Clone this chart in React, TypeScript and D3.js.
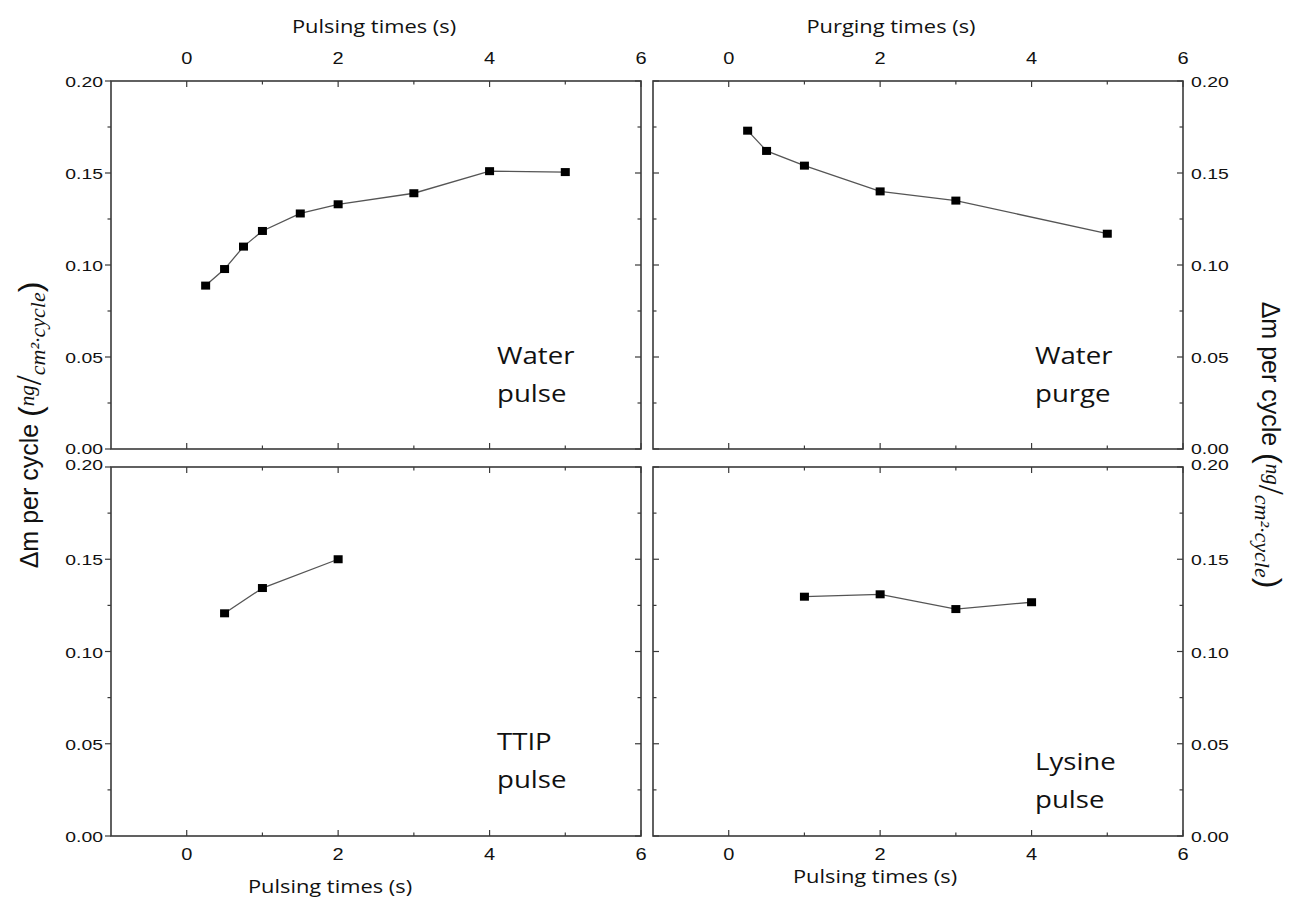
import React from "react";
import * as d3 from "d3";

// ---- data ----
const waterPulseX = [0.25, 0.5, 0.75, 1, 1.5, 2, 3, 4, 5];
const waterPulseY = [0.0888, 0.0978, 0.11, 0.1185, 0.128, 0.133, 0.139, 0.151, 0.1505];
const waterPurgeX = [0.25, 0.5, 1, 2, 3, 5];
const waterPurgeY = [0.173, 0.162, 0.154, 0.14, 0.135, 0.117];
const ttipPulseX = [0.5, 1, 2];
const ttipPulseY = [0.1207, 0.1344, 0.15];
const lysinePulseX = [1, 2, 3, 4];
const lysinePulseY = [0.1297, 0.131, 0.123, 0.1267];

const xMajorTicks = [0, 2, 4, 6];
const xMinorTicks = [1, 3, 5];
const yMajorTicks = [0, 0.05, 0.1, 0.15, 0.2];
const yMinorTicks = [0.025, 0.075, 0.125, 0.175];
const xDomain = [-1, 6];
const yDomain = [0, 0.2];

const topLeftTitle = "Pulsing times (s)";
const topRightTitle = "Purging times (s)";
const bottomLeftTitle = "Pulsing times (s)";
const bottomRightTitle = "Pulsing times (s)";

type Panel = {
  x0: number; x1: number; y0: number; y1: number;
  xs: number[]; ys: number[];
  xLabelSide: "top" | "bottom";
  yLabelSide: "left" | "right";
  note: string[];
  noteX: number; noteY: number;
};

const panels: Panel[] = [
  { x0: 111, x1: 641, y0: 81, y1: 449, xs: waterPulseX, ys: waterPulseY, xLabelSide: "top", yLabelSide: "left", note: ["Water", "pulse"], noteX: 497, noteY: 364 },
  { x0: 653, x1: 1183, y0: 81, y1: 449, xs: waterPurgeX, ys: waterPurgeY, xLabelSide: "top", yLabelSide: "right", note: ["Water", "purge"], noteX: 1035, noteY: 364 },
  { x0: 111, x1: 641, y0: 467, y1: 836, xs: ttipPulseX, ys: ttipPulseY, xLabelSide: "bottom", yLabelSide: "left", note: ["TTIP", "pulse"], noteX: 497, noteY: 750 },
  { x0: 653, x1: 1183, y0: 467, y1: 836, xs: lysinePulseX, ys: lysinePulseY, xLabelSide: "bottom", yLabelSide: "right", note: ["Lysine", "pulse"], noteX: 1035, noteY: 770 },
];

const AX = "#3a3a3a";
const TICK_FONT = "'Liberation Sans', Arial, sans-serif";
const TITLE_FONT = "'Open Sans', sans-serif";
const SX = 1.25;

function SText(props: { x: number; y: number; sx?: number; anchor?: string; size: number; family: string; children: React.ReactNode }) {
  const { x, y, sx = SX, anchor = "middle", size, family, children } = props;
  return (
    <g transform={`translate(${x},${y}) scale(${sx},1)`}>
      <text x={0} y={0} textAnchor={anchor as any} fontSize={size} fontFamily={family} fill="#111">
        {children}
      </text>
    </g>
  );
}

function PanelView({ p }: { p: Panel }) {
  const x = d3.scaleLinear().domain(xDomain).range([p.x0, p.x1]);
  const y = d3.scaleLinear().domain(yDomain).range([p.y1, p.y0]);
  const line = d3.line<number>().x((_, i) => x(p.xs[i])).y((d) => y(d));
  const MJ = 6, MN = 3.5;
  const leftOut = p.yLabelSide === "left";
  return (
    <g>
      <rect x={p.x0} y={p.y0} width={p.x1 - p.x0} height={p.y1 - p.y0} fill="none" stroke={AX} strokeWidth={1.6} />
      {xMajorTicks.concat(xMinorTicks).map((t) => {
        const len = xMajorTicks.includes(t) ? MJ : MN;
        return (
          <g key={"xt" + t}>
            <line x1={x(t)} x2={x(t)} y1={p.y0} y2={p.y0 + len} stroke={AX} strokeWidth={1.2} />
            <line x1={x(t)} x2={x(t)} y1={p.y1} y2={p.y1 - len} stroke={AX} strokeWidth={1.2} />
          </g>
        );
      })}
      {yMajorTicks.concat(yMinorTicks).map((t) => {
        const len = yMajorTicks.includes(t) ? MJ : MN;
        return (
          <g key={"yt" + t}>
            <line x1={p.x0} x2={leftOut ? p.x0 - len : p.x0 + len} y1={y(t)} y2={y(t)} stroke={AX} strokeWidth={1.2} />
            <line x1={p.x1} x2={p.x1 - len} y1={y(t)} y2={y(t)} stroke={AX} strokeWidth={1.2} />
          </g>
        );
      })}
      {xMajorTicks.map((t) => (
        <SText key={"xl" + t} x={x(t)} y={p.xLabelSide === "top" ? p.y0 - 17 : p.y1 + 24} size={16} family={TICK_FONT}>
          {String(t)}
        </SText>
      ))}
      {yMajorTicks.map((t) => {
        const shift = p.xLabelSide === "bottom" && t === 0.2 ? -3 : t === 0 && p.xLabelSide === "top" ? -1 : 0;
        return (
          <SText
            key={"yl" + t}
            x={p.yLabelSide === "left" ? p.x0 - 8 : p.x1 + 8}
            y={y(t) + 6 + shift}
            anchor={p.yLabelSide === "left" ? "end" : "start"}
            size={15.5}
            family={TICK_FONT}
          >
            {t.toFixed(2)}
          </SText>
        );
      })}
      <path d={line(p.ys) || ""} fill="none" stroke="#555" strokeWidth={1.3} />
      {p.ys.map((v, i) => (
        <rect key={"m" + i} x={x(p.xs[i]) - 4.5} y={y(v) - 4} width={9} height={8} fill="#000" />
      ))}
      {p.note.map((s, i) => (
        <SText key={"n" + i} x={p.noteX} y={p.noteY + i * 38} anchor="start" size={24} sx={1.15} family={TITLE_FONT}>
          {s}
        </SText>
      ))}
    </g>
  );
}

function YTitle({ x, y, rot }: { x: number; y: number; rot: number }) {
  const math = "'Liberation Serif', 'DejaVu Serif', serif";
  return (
    <text transform={`translate(${x},${y}) rotate(${rot})`} textAnchor="middle" fontFamily={TICK_FONT} fontSize={25} fill="#111">
      <tspan>Δm per cycle </tspan>
      <tspan fontSize={32} dy={3}>(</tspan>
      <tspan fontSize={21} fontStyle="italic" fontFamily={math} dy={-7}>ng</tspan>
      <tspan fontSize={36} fontFamily={math} dy={7}>/</tspan>
      <tspan fontSize={22} fontStyle="italic" fontFamily={math} dy={4}>cm²·cycle</tspan>
      <tspan fontSize={32} dy={-4}>)</tspan>
    </text>
  );
}

export default function App() {
  return (
    <svg width={1295} height={899} style={{ position: "absolute", left: 0, top: 0, background: "#fff" }}>
      <rect width={1295} height={899} fill="#fff" />
      {panels.map((p, i) => (
        <PanelView key={i} p={p} />
      ))}
      <SText x={374} y={33} size={17.5} family={TITLE_FONT}>{topLeftTitle}</SText>
      <SText x={891} y={33} size={17.5} family={TITLE_FONT}>{topRightTitle}</SText>
      <SText x={330} y={893} size={17.5} family={TITLE_FONT}>{bottomLeftTitle}</SText>
      <SText x={875} y={883} size={17.5} family={TITLE_FONT}>{bottomRightTitle}</SText>
      <YTitle x={38} y={425} rot={-90} />
      <YTitle x={1262} y={445} rot={90} />
    </svg>
  );
}
